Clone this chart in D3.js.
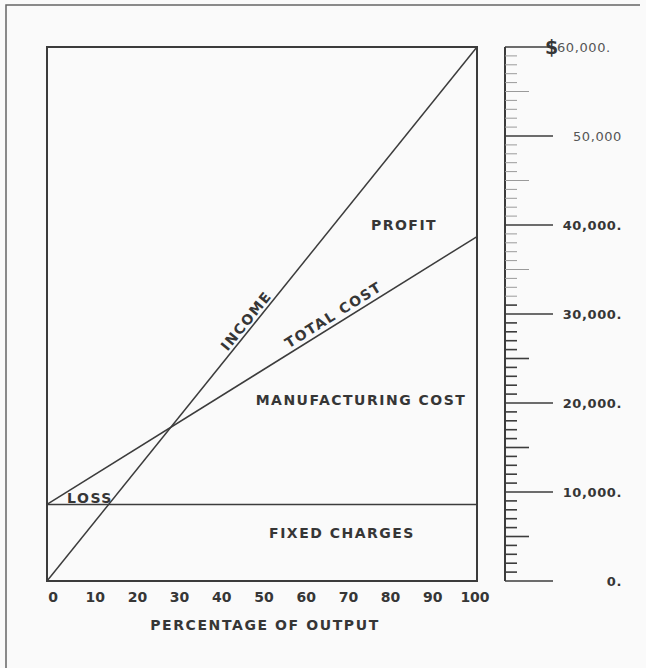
<!DOCTYPE html>
<html>
  <head>
    <title>Break-even chart</title>
  </head>
  <body>
    <svg id="svg" width="646" height="668"></svg>

    <script src="https://cdn.jsdelivr.net/npm/d3@7"></script>
    <style>
      body,
      html {
        margin: 0;
        padding: 0;
        background: #fafafa;
      }
      text {
        font-family: "DejaVu Sans", sans-serif;
        font-weight: bold;
        fill: #363636;
      }
    </style>
    <script>
      // values
      const output = [0, 100]; // percentage of output
      const income = [0, 60000];
      const fixedCharges = [8600, 8600];
      const totalCost = [8600, 38700];
      const xTicks = [0, 10, 20, 30, 40, 50, 60, 70, 80, 90, 100];
      const dollarTicks = [0, 10000, 20000, 30000, 40000, 50000, 60000];
      const dollarLabels = ["0.", "10,000.", "20,000.", "30,000.", "40,000.", "50,000", "60,000."];

      const boxLeft = 47, boxRight = 477, boxTop = 47, boxBottom = 581;

      const svg = d3.select('#svg');

      const xscale = d3.scaleLinear().domain([0, 100]).range([boxLeft, boxRight]);
      // the printed numbers sit a little inside the box
      const xlabelScale = d3.scaleLinear().domain([0, 100]).range([53, 475]);
      const yscale = d3.scaleLinear().domain([0, 60000]).range([boxBottom, boxTop]);

      // outer frame (only top and left edges show)
      svg.append('path')
        .attr('d', 'M6,668 L6,5 L640,5')
        .attr('fill', 'none')
        .attr('stroke', '#666')
        .attr('stroke-width', 1.5);

      // plot box
      svg.append('rect')
        .attr('x', boxLeft).attr('y', boxTop)
        .attr('width', boxRight - boxLeft).attr('height', boxBottom - boxTop)
        .attr('fill', 'none')
        .attr('stroke', '#3c3c3c')
        .attr('stroke-width', 2);

      const linegen = d3.line()
        .x((d, i) => xscale(output[i]))
        .y(d => yscale(d));

      [income, fixedCharges, totalCost].forEach(series => {
        svg.append('path')
          .attr('d', linegen(series))
          .attr('fill', 'none')
          .attr('stroke', '#3c3c3c')
          .attr('stroke-width', 1.5);
      });

      // x tick labels
      svg.append('g')
        .selectAll('text')
        .data(xTicks)
        .join('text')
        .attr('x', d => xlabelScale(d))
        .attr('y', 602)
        .attr('text-anchor', 'middle')
        .attr('font-size', 14)
        .text(d => d);

      svg.append('text')
        .attr('x', 265).attr('y', 630)
        .attr('text-anchor', 'middle')
        .attr('font-size', 14)
        .attr('letter-spacing', 1.6)
        .text('PERCENTAGE OF OUTPUT');

      // right hand dollar ruler
      const ax = 505;
      const ruler = svg.append('g');
      ruler.append('line')
        .attr('x1', ax).attr('x2', ax)
        .attr('y1', yscale(60000)).attr('y2', yscale(0))
        .attr('stroke', '#3c3c3c')
        .attr('stroke-width', 2);

      ruler.selectAll('line.tick')
        .data(d3.range(0, 60001, 1000))
        .join('line')
        .attr('class', 'tick')
        .attr('x1', ax)
        .attr('x2', d => ax + (d % 10000 === 0 ? 48 : d % 5000 === 0 ? 24 : 12))
        .attr('y1', d => yscale(d))
        .attr('y2', d => yscale(d))
        .attr('stroke', d => d > 31000 && d % 10000 !== 0 ? '#9a9a9a' : '#3c3c3c')
        .attr('stroke-width', d => d > 31000 && d % 10000 !== 0 ? 1 : 1.6);

      ruler.selectAll('text.val')
        .data(dollarTicks)
        .join('text')
        .attr('class', 'val')
        .attr('x', d => d === 60000 ? 557 : 622)
        .attr('y', d => yscale(d) + 5)
        .attr('text-anchor', d => d === 60000 ? 'start' : 'end')
        .attr('font-size', 13)
        .attr('letter-spacing', 0.6)
        .style('font-weight', d => d >= 50000 ? 'normal' : 'bold')
        .style('fill', d => d >= 50000 ? '#555' : '#363636')
        .text((d, i) => dollarLabels[i]);

      ruler.append('text')
        .attr('x', 545).attr('y', yscale(60000) + 7)
        .attr('font-size', 19)
        .text('$');

      // region labels
      const regionLabels = [
        { text: 'PROFIT', x: 404, y: 230, angle: 0 },
        { text: 'MANUFACTURING COST', x: 361, y: 405, angle: 0 },
        { text: 'FIXED CHARGES', x: 342, y: 538, angle: 0 },
        { text: 'LOSS', x: 90, y: 503, angle: 0 },
        { text: 'INCOME', x: 250, y: 324, angle: -51 },
        { text: 'TOTAL COST', x: 336, y: 319, angle: -32 }
      ];

      svg.append('g')
        .selectAll('text')
        .data(regionLabels)
        .join('text')
        .attr('transform', d => `translate(${d.x},${d.y}) rotate(${d.angle})`)
        .attr('text-anchor', 'middle')
        .attr('font-size', 14)
        .attr('letter-spacing', 1.5)
        .text(d => d.text);
    </script>
  </body>
</html>
